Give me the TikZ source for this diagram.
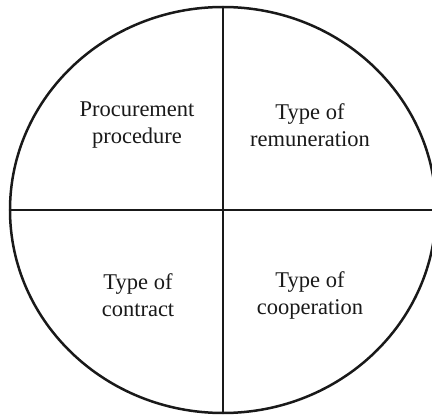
\documentclass[tikz,border=0pt]{standalone}
\usepackage{fontspec}
\setmainfont{Liberation Serif}
\usetikzlibrary{positioning}
\usetikzlibrary{shapes.geometric}

\begin{document}
\begin{tikzpicture}[x=1pt,y=1pt]
    \tikzset{disc/.style = {ellipse, draw=black!90, line width=2.5pt,
                           inner sep=0pt, outer sep=0pt,
                           minimum width=426pt, minimum height=406pt}}
    \tikzset{divider/.style = {draw=black!90, line width=2.5pt}}
    \tikzset{label/.style = {align=center, font=\fontsize{22.5}{27}\selectfont,
                            text=black!90}}

    \useasboundingbox (0,0) rectangle (432,416);

    \node (D) [disc] at (223,206) {};

    \draw[divider] (D.north) -- (D.south);
    \draw[divider] (D.west) -- (D.east);

    \node (Q1) [label] at (137,291) {Procurement\\procedure};
    \node (Q2) [label] at (310,291) {Type of\\remuneration};
    \node (Q3) [label] at (138,121) {Type of\\contract};
    \node (Q4) [label] at (310,121) {Type of\\cooperation};

\end{tikzpicture}
\end{document}
